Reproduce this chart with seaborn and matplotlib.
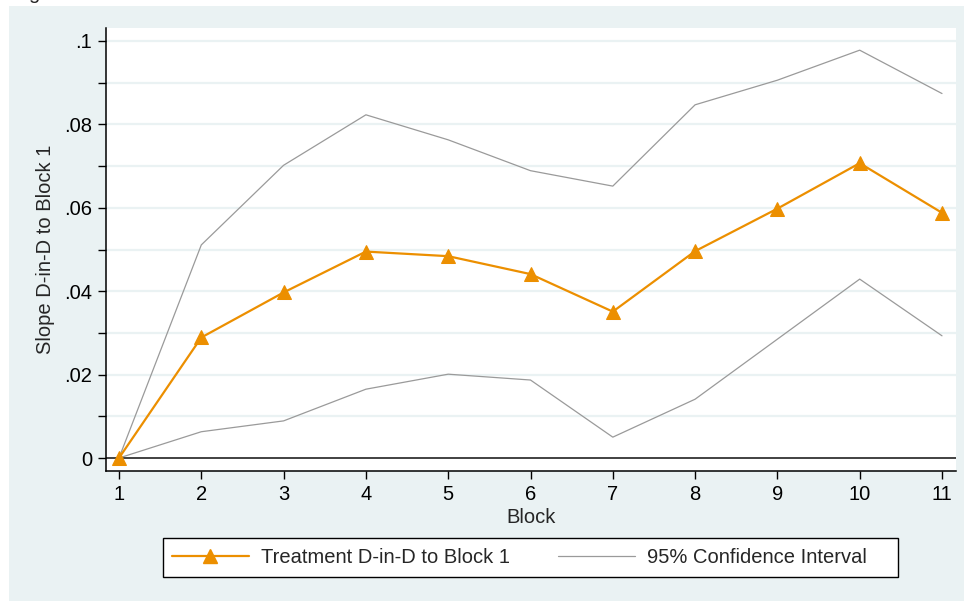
import matplotlib
matplotlib.use("Agg")
import matplotlib.pyplot as plt
import seaborn as sns
import pandas as pd
from matplotlib.patches import Rectangle
from matplotlib.lines import Line2D

# Values
blocks = [1, 2, 3, 4, 5, 6, 7, 8, 9, 10, 11]
treatment = [0.0, 0.0289, 0.0397, 0.0495, 0.0484, 0.0441, 0.0351, 0.0496, 0.0598, 0.0707, 0.0588]
ci_upper = [0.0, 0.0511, 0.0702, 0.0823, 0.0763, 0.0689, 0.0652, 0.0847, 0.0906, 0.0978, 0.0874]
ci_lower = [0.0, 0.0063, 0.0089, 0.0165, 0.0201, 0.0187, 0.0050, 0.0141, 0.0285, 0.0429, 0.0293]
ytick_values = [0, 0.02, 0.04, 0.06, 0.08, 0.1]
ytick_labels = ["0", ".02", ".04", ".06", ".08", ".1"]
yminor_values = [0.01, 0.03, 0.05, 0.07, 0.09]
legend_labels = ["Treatment D-in-D to Block 1", "95% Confidence Interval"]

ORANGE = "#EC8F00"
GRAY = "#9A9A9A"
PANEL = "#EAF2F3"

df = pd.DataFrame({"block": blocks, "treat": treatment,
                   "upper": ci_upper, "lower": ci_lower})

sns.set_style("white")
plt.rcParams["font.family"] = ["Liberation Sans", "DejaVu Sans"]

fig = plt.figure(figsize=(9.64, 6.01), dpi=100)
fig.patch.set_facecolor("white")
# light outer panel (Stata style), small white margin at top/left
fig.patches.append(Rectangle((9 / 964, 0), 1 - 9 / 964, 1 - 6 / 601,
                             transform=fig.transFigure, facecolor=PANEL,
                             edgecolor="none", zorder=-10))
# cropped caption glyph at the very top
fig.text(28 / 964, 1 + 1 / 601, "g", fontsize=14.5, va="baseline", ha="left")

ax = fig.add_axes([106 / 964, 1 - 471 / 601, 850 / 964, 443 / 601])
ax.set_facecolor("white")

# grid every .01
for v in ytick_values[1:] + yminor_values:
    ax.axhline(v, color=PANEL, lw=1.6, zorder=0)
ax.axhline(0, color="#333333", lw=1.3, zorder=1)

sns.lineplot(data=df, x="block", y="upper", ax=ax, color=GRAY, lw=0.9, legend=False, zorder=2)
sns.lineplot(data=df, x="block", y="lower", ax=ax, color=GRAY, lw=0.9, legend=False, zorder=2)
sns.lineplot(data=df, x="block", y="treat", ax=ax, color=ORANGE, lw=1.6,
             marker="^", markersize=9.5, markeredgecolor=ORANGE, legend=False, zorder=3)

ax.set_xlim(1 - 13 / 82.3, 11 + 14 / 82.3)
ax.set_ylim(-13 / 4170, 0.1 + 13 / 4170)

ax.set_xticks(blocks)
ax.set_xticklabels([str(b) for b in blocks])
ax.set_yticks(ytick_values)
ax.set_yticklabels(ytick_labels)
ax.set_yticks(yminor_values, minor=True)

ax.tick_params(axis="both", which="both", direction="out", length=6, width=1,
               color="black", labelsize=14.5, labelcolor="black")
ax.tick_params(axis="y", which="both", left=True, pad=4)
ax.tick_params(axis="x", which="major", bottom=True, pad=4)

for side in ["top", "right"]:
    ax.spines[side].set_visible(False)
for side in ["left", "bottom"]:
    ax.spines[side].set_color("black")
    ax.spines[side].set_linewidth(1.1)

ax.set_xlabel("Block", fontsize=14.5, labelpad=3)
ax.set_ylabel("Slope D-in-D to Block 1", fontsize=14.5, labelpad=6.5)

# legend box drawn separately so it keeps Stata's wider right padding
fig.patches.append(Rectangle((163 / 964, 1 - 577 / 601), 735 / 964, 39 / 601,
                             transform=fig.transFigure, facecolor="white",
                             edgecolor="black", lw=1.0, zorder=5))
handles = [Line2D([], [], color=ORANGE, lw=1.6, marker="^", markersize=9.5),
           Line2D([], [], color=GRAY, lw=0.9)]
leg = fig.legend(handles, legend_labels, loc="center left", ncol=2,
                 bbox_to_anchor=(163 / 964, 1 - 557.5 / 601),
                 fontsize=14.5, frameon=False, handlelength=3.8,
                 handletextpad=0.6, columnspacing=2.4, borderpad=0.45,
                 borderaxespad=0)
leg.set_zorder(6)

fig.savefig("out.png", dpi=100)
